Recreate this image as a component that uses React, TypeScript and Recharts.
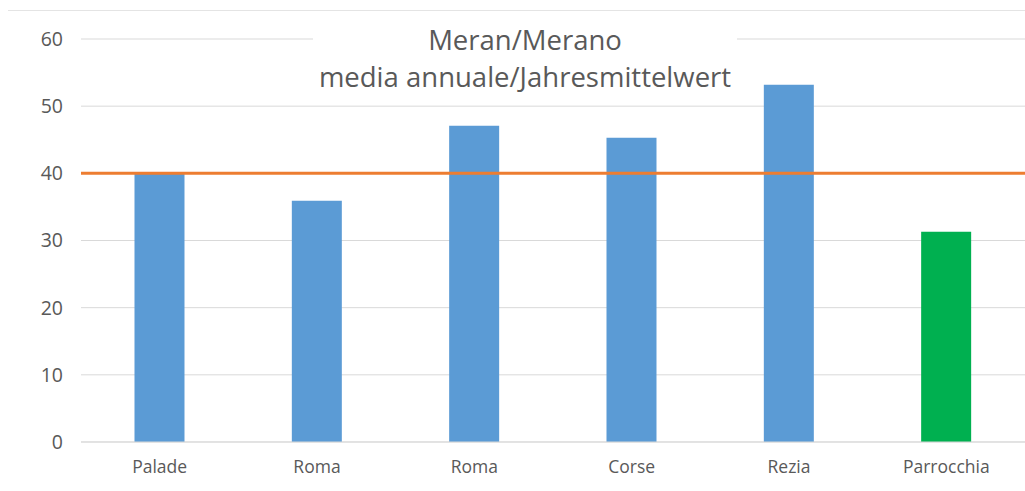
import React from 'react';
import { Bar, BarChart, CartesianGrid, Cell, ReferenceLine, XAxis, YAxis } from 'recharts';

// Stazioni di misura
const stations = ['Palade', 'Roma', 'Roma', 'Corse', 'Rezia', 'Parrocchia'];
const annualMeans = [39.9, 35.9, 47.1, 45.3, 53.2, 31.3];
const barColors = ['#5B9BD5', '#5B9BD5', '#5B9BD5', '#5B9BD5', '#5B9BD5', '#00B050'];
const yTicks = [0, 10, 20, 30, 40, 50, 60];
const limitValue = 40;

const titleLines = ['Meran/Merano', 'media annuale/Jahresmittelwert'];

const data = stations.map((name, i) => ({ name, value: annualMeans[i] }));

const FONT = '"Open Sans", "Noto Sans", sans-serif';
const TEXT = '#595959';

export default function App() {
  return (
    <div style={{ position: 'absolute', left: 0, top: 0, width: 1025, height: 491, background: '#fff', fontFamily: FONT, overflow: 'hidden' }}>
      <div style={{ position: 'absolute', left: 8, right: 0, top: 10, height: 1, background: '#e4e4e4' }} />
      <BarChart
        width={1025}
        height={491}
        data={data}
        margin={{ top: 39, right: 0, bottom: 0, left: 0 }}
        barCategoryGap="34%"
      >
        <CartesianGrid vertical={false} stroke="#d9d9d9" strokeWidth={1} />
        <XAxis
          dataKey="name"
          height={49}
          axisLine={{ stroke: '#d9d9d9' }}
          tickLine={false}
          tickMargin={13}
          tick={{ fill: TEXT, fontSize: 17.5, fontFamily: FONT }}
        />
        <YAxis
          width={81}
          domain={[0, 60]}
          ticks={yTicks}
          axisLine={false}
          tickLine={false}
          tickMargin={12}
          tick={{ fill: TEXT, fontSize: 19.5, fontFamily: FONT }}
        />
        <Bar dataKey="value" isAnimationActive={false}>
          {data.map((d, i) => (
            <Cell key={`c-${i}`} fill={barColors[i]} />
          ))}
        </Bar>
        <ReferenceLine y={limitValue} stroke="#ED7D31" strokeWidth={3} ifOverflow="extendDomain" />
      </BarChart>
      <div
        style={{
          position: 'absolute', left: 313, top: 12, width: 424, height: 92,
          background: '#fff', color: TEXT, fontSize: 27.5, textAlign: 'center', lineHeight: '37px',
          paddingTop: 9, boxSizing: 'border-box',
        }}
      >
        {titleLines.map((t, i) => (
          <div key={i}>{t}</div>
        ))}
      </div>
    </div>
  );
}
